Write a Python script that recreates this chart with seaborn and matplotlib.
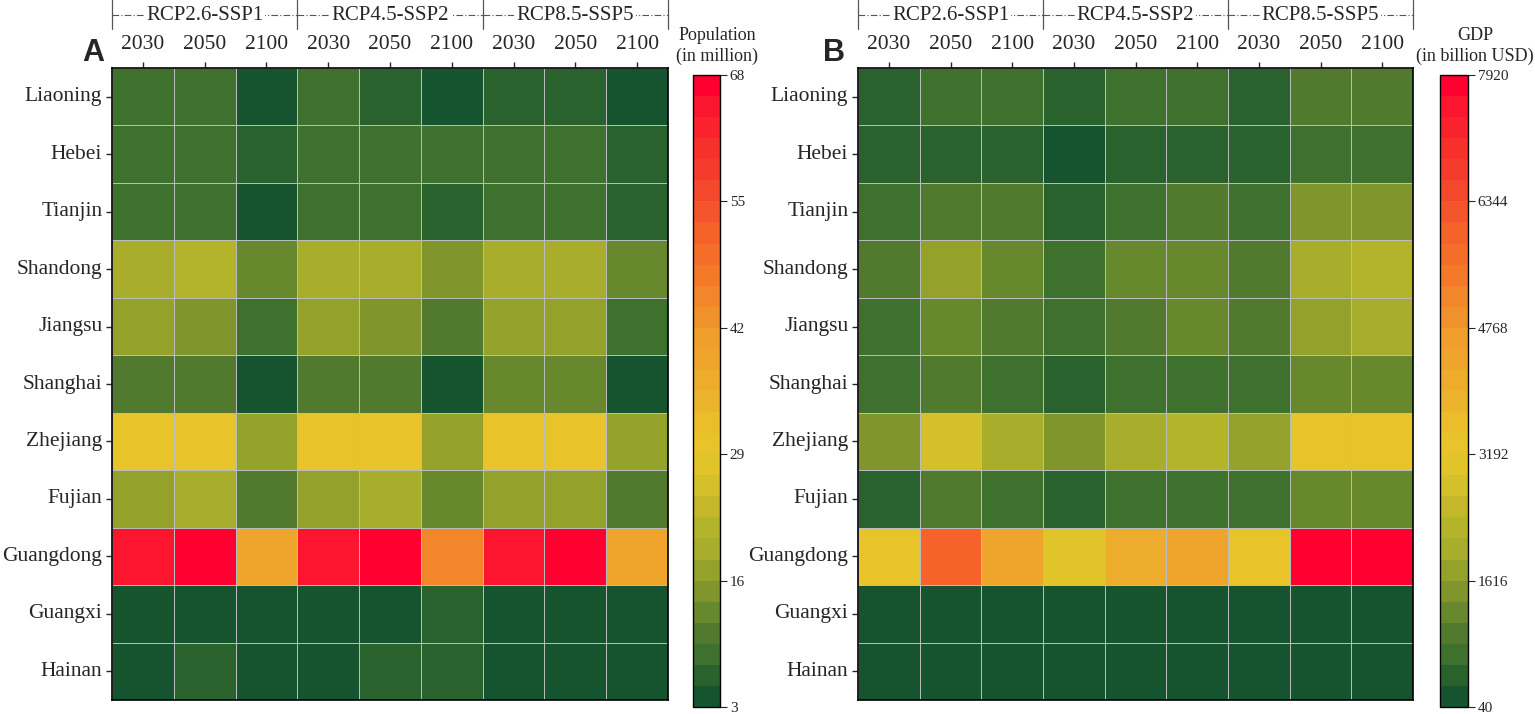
import numpy as np
import pandas as pd
import seaborn as sns
import matplotlib.pyplot as plt
from matplotlib.colors import ListedColormap

# --- data -------------------------------------------------------------
provinces = ["Liaoning", "Hebei", "Tianjin", "Shandong", "Jiangsu", "Shanghai",
             "Zhejiang", "Fujian", "Guangdong", "Guangxi", "Hainan"]
scenarios = ["RCP2.6-SSP1", "RCP4.5-SSP2", "RCP8.5-SSP5"]
years = ["2030", "2050", "2100"]

# population exposed (million), columns = scenario x year
population = [
    [8.5, 8.3, 4.2, 8.6, 6.2, 4.0, 6.4, 6.1, 4.3],
    [8.7, 8.5, 6.3, 8.6, 8.4, 8.2, 8.5, 8.3, 6.4],
    [8.4, 8.2, 4.1, 8.5, 8.3, 6.2, 8.4, 8.2, 6.1],
    [19.5, 21.5, 12.9, 19.4, 19.2, 15.0, 19.3, 19.1, 12.8],
    [17.3, 15.0, 8.4, 17.2, 14.9, 10.6, 17.1, 17.0, 8.3],
    [10.7, 10.5, 4.3, 10.6, 10.4, 4.2, 12.8, 12.7, 4.1],
    [30.2, 30.0, 17.0, 30.1, 30.0, 16.9, 30.3, 30.1, 16.8],
    [17.2, 19.3, 10.6, 17.1, 19.2, 12.7, 17.0, 16.9, 10.5],
    [64.8, 67.2, 39.5, 64.5, 67.0, 45.5, 64.6, 67.1, 39.6],
    [4.2, 4.1, 4.3, 4.0, 4.1, 6.2, 4.2, 4.0, 4.1],
    [4.1, 6.3, 4.2, 4.0, 6.1, 6.2, 4.1, 4.0, 4.2],
]
pop_range = (3, 68)

# GDP exposed (billion USD)
gdp = [
    [430, 700, 690, 440, 710, 690, 420, 960, 950],
    [420, 430, 410, 170, 440, 430, 420, 700, 690],
    [690, 960, 950, 430, 700, 960, 690, 1480, 1490],
    [950, 1750, 1220, 700, 1230, 1220, 960, 2010, 2270],
    [700, 1230, 960, 690, 960, 1220, 950, 1750, 2000],
    [690, 960, 700, 430, 700, 690, 680, 1230, 1220],
    [1480, 2800, 2010, 1490, 2000, 2270, 1750, 3320, 3330],
    [430, 960, 700, 420, 700, 690, 690, 1220, 1230],
    [3320, 5950, 4380, 3060, 4110, 4500, 3330, 7790, 7920],
    [160, 150, 170, 140, 160, 170, 150, 180, 170],
    [120, 110, 130, 100, 120, 130, 110, 140, 130],
]
gdp_range = (40, 7920)

# 30-step green -> yellow -> red palette
cmap = ListedColormap([
    "#165430", "#2a622e", "#3e702e", "#527a2e", "#68882e", "#80962c",
    "#94a22c", "#a8ae2c", "#b4b42a", "#c4b82a", "#d4c02a", "#e0c42a",
    "#e8c42a", "#ebbd2a", "#ecb42c", "#eeac2c", "#efa52c", "#f09e2c",
    "#f0922c", "#f2862a", "#f47a2a", "#f46e2a", "#f5622a", "#f5552c",
    "#f4482c", "#f53c2c", "#f8302c", "#fa222c", "#fc152e", "#ff0030",
])

sns.set_style("white")
plt.rcParams["font.family"] = ["Liberation Serif", "DejaVu Serif"]

columns = [y for _ in scenarios for y in years]

W, H = 1535, 714
fig = plt.figure(figsize=(W / 100, H / 100), dpi=100)


def px_axes(x0, y0, x1, y1):
    return fig.add_axes([x0 / W, 1 - y1 / H, (x1 - x0) / W, (y1 - y0) / H])


def draw_panel(values, vrange, label, letter, ax_box, cb_box, label_x, letter_xy):
    ax = px_axes(*ax_box)
    cax = px_axes(*cb_box)
    df = pd.DataFrame(values, index=provinces, columns=columns)
    sns.heatmap(df, ax=ax, cbar_ax=cax, cmap=cmap, vmin=vrange[0], vmax=vrange[1],
                linewidths=0.6, linecolor="#b9bdb9")
    for s in ax.spines.values():
        s.set_visible(True)
        s.set_color("black")
        s.set_linewidth(1.2)
    ax.xaxis.tick_top()
    ax.tick_params(axis="x", labelsize=15.5, length=4, width=1, pad=6, rotation=0, top=True, bottom=False)
    ax.tick_params(axis="y", labelsize=15.5, length=4, width=1, pad=3, rotation=0, left=True)
    ax.set_xlabel("")
    ax.set_ylabel("")

    # scenario header above the year labels
    trans = ax.get_xaxis_transform()
    ah = ax_box[3] - ax_box[1]
    y_line = 1 + (ax_box[1] - 15) / ah
    y_lo = 1 + (ax_box[1] - 29) / ah
    y_hi = 1 + ax_box[1] / ah
    for i, name in enumerate(scenarios):
        x0, x1 = 3 * i, 3 * i + 3
        ax.plot([x0, x1], [y_line, y_line], transform=trans, clip_on=False,
                color="#555555", lw=0.8, ls=(0, (6, 2, 1, 2)))
        ax.text((x0 + x1) / 2, y_line, name, transform=trans, ha="center", va="center",
                fontsize=15, bbox=dict(fc="white", ec="none", pad=1.5))
    for x in range(0, 10, 3):
        ax.plot([x, x], [y_lo, y_hi], transform=trans, clip_on=False, color="#555555", lw=0.9)

    # colorbar
    ticks = np.linspace(vrange[0], vrange[1], 6)
    cax.set_yticks(ticks)
    cax.set_yticklabels([f"{t:.0f}" for t in ticks])
    cax.tick_params(labelsize=11, length=5, width=0.8, right=True, pad=2)
    cb = ax.collections[0].colorbar
    cb.outline.set_linewidth(1.0)
    cb.outline.set_edgecolor("black")
    fig.text(label_x / W, 1 - 46 / H, label, fontsize=13, ha="center", va="center",
             linespacing=1.25)

    fig.text(letter_xy[0] / W, 1 - letter_xy[1] / H, letter, fontsize=22, fontweight="bold",
             family="Liberation Sans", ha="center", va="center")


draw_panel(population, pop_range, "Population\n(in million)", "A",
           (112, 68, 668, 700), (693, 75, 720, 707), 717, (93, 53))
draw_panel(gdp, gdp_range, "GDP\n(in billion USD)", "B",
           (858, 68, 1413, 700), (1440, 75, 1468, 707), 1475, (834, 53))

fig.savefig("out.png", dpi=100)
